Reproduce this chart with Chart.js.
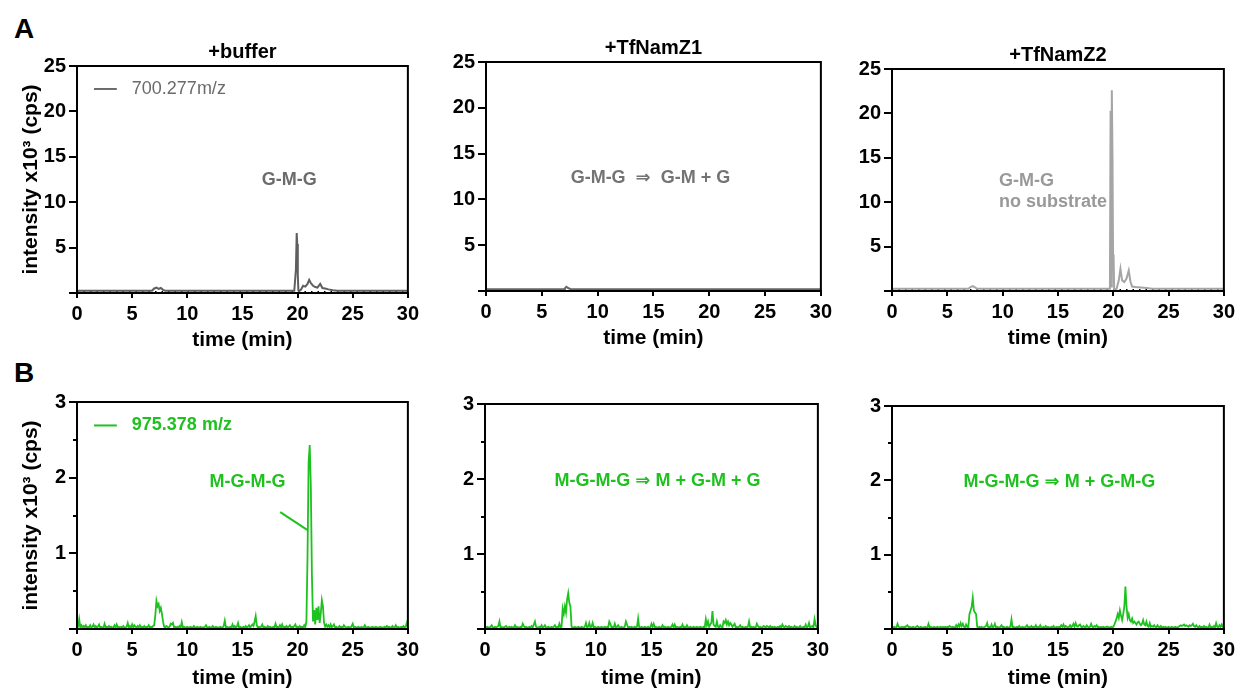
<!DOCTYPE html>
<html>
<head>
<meta charset="utf-8">
<script src="https://cdn.jsdelivr.net/npm/chart.js@4.4.1/dist/chart.umd.min.js"></script>
<style>
  html, body { margin: 0; padding: 0; background: #fff; overflow: hidden; }
  body { width: 1239px; height: 690px; position: relative; font-family: "Liberation Sans", Arial, sans-serif; }
  canvas { position: absolute; }
  .letter { position: absolute; font-weight: bold; font-size: 28px; line-height: 28px; color: #000; }
</style>
</head>
<body>
<div class="letter" style="left:14px;top:15px">A</div>
<div class="letter" style="left:14px;top:359px">B</div>
<canvas id="a1"></canvas>
<canvas id="a2"></canvas>
<canvas id="a3"></canvas>
<canvas id="b1"></canvas>
<canvas id="b2"></canvas>
<canvas id="b3"></canvas>
<script>
// ---- data (time in min, intensity in x10^3 cps) ----
const panelTitles = ['+buffer', '+TfNamZ1', '+TfNamZ2'];
const timeTicks = [0, 5, 10, 15, 20, 25, 30];

// 700.277 m/z trace (G-M-G)
const gmgBufferTime = [0, 6.8, 7.0, 7.2, 7.4, 7.6, 7.8, 8.0, 19.7, 19.85, 19.92, 19.97, 20.02, 20.07, 20.12, 20.3, 20.5, 20.7, 20.9, 21.05, 21.2, 21.4, 21.6, 21.8, 22.05, 22.25, 22.5, 22.8, 23.2, 23.6, 30];
const gmgBufferCps  = [0.25, 0.25, 0.5, 0.6, 0.45, 0.55, 0.35, 0.25, 0.25, 2.6, 6.6, 5.4, 2.0, 0.3, 0.2, 0.35, 0.8, 0.7, 1.0, 1.45, 1.1, 0.8, 0.65, 0.6, 1.0, 0.55, 0.5, 0.4, 0.3, 0.25, 0.25];
const gmgZ1Time = [0, 7.0, 7.2, 7.4, 7.6, 30];
const gmgZ1Cps  = [0.2, 0.2, 0.45, 0.3, 0.2, 0.2];
const gmgZ2Time = [0, 6.9, 7.1, 7.3, 7.5, 7.7, 19.7, 19.76, 19.81, 19.87, 19.93, 19.98, 20.03, 20.08, 20.3, 20.5, 20.65, 20.8, 21.0, 21.2, 21.4, 21.55, 21.7, 22.0, 22.5, 23.0, 23.5, 30];
const gmgZ2Cps  = [0.25, 0.25, 0.45, 0.55, 0.4, 0.25, 0.25, 20.3, 0.5, 22.6, 15.0, 4.1, 4.0, 0.2, 0.25, 1.2, 2.5, 1.2, 1.0, 1.4, 2.3, 1.1, 0.5, 0.45, 0.4, 0.35, 0.25, 0.25];
const dotLineTime = [0, 30];
const dotLineCps  = [0.1, 0.1];

// 975.378 m/z trace (M-G-M-G), one scan every 0.1 min, one row per minute
const scanStep = 0.1;
const mgmgBufferCps = [
  0.02,0.03,0.13,0.02,0.05,0.02,0.04,0.02,0.05,0.02,
  0.03,0.02,0.05,0.02,0.03,0.06,0.02,0.04,0.02,0.03,
  0.06,0.02,0.03,0.02,0.02,0.07,0.02,0.03,0.02,0.04,
  0.02,0.03,0.02,0.02,0.05,0.02,0.06,0.02,0.03,0.02,
  0.03,0.02,0.04,0.02,0.02,0.03,0.08,0.02,0.04,0.02,
  0.06,0.02,0.05,0.03,0.02,0.04,0.02,0.05,0.02,0.03,
  0.02,0.04,0.02,0.03,0.02,0.05,0.02,0.03,0.02,0.04,
  0.05,0.18,0.37,0.30,0.33,0.24,0.28,0.20,0.10,0.03,
  0.02,0.04,0.03,0.02,0.03,0.07,0.06,0.08,0.02,0.03,
  0.02,0.03,0.02,0.04,0.02,0.09,0.02,0.03,0.02,0.02,
  0.03,0.02,0.02,0.03,0.02,0.02,0.04,0.02,0.02,0.03,
  0.02,0.02,0.03,0.02,0.02,0.02,0.03,0.05,0.02,0.02,
  0.03,0.02,0.02,0.04,0.02,0.02,0.03,0.02,0.02,0.02,
  0.03,0.02,0.02,0.04,0.11,0.02,0.03,0.02,0.02,0.03,
  0.02,0.06,0.02,0.04,0.02,0.03,0.08,0.02,0.03,0.02,
  0.02,0.03,0.02,0.04,0.02,0.03,0.05,0.02,0.04,0.06,
  0.04,0.10,0.17,0.05,0.02,0.03,0.02,0.03,0.06,0.02,
  0.03,0.02,0.02,0.04,0.02,0.03,0.02,0.02,0.03,0.02,
  0.07,0.02,0.03,0.02,0.05,0.02,0.06,0.02,0.03,0.02,
  0.04,0.02,0.03,0.05,0.02,0.03,0.02,0.04,0.06,0.02,
  0.03,0.02,0.04,0.02,0.03,0.02,0.05,0.02,0.10,0.95,
  2.20,2.43,1.90,0.70,0.10,0.25,0.06,0.28,0.12,0.30,
  0.08,0.20,0.38,0.30,0.08,0.03,0.06,0.03,0.05,0.02,
  0.06,0.02,0.04,0.06,0.02,0.03,0.02,0.02,0.04,0.02,
  0.03,0.02,0.05,0.03,0.02,0.02,0.03,0.02,0.02,0.04,
  0.07,0.02,0.03,0.02,0.02,0.03,0.02,0.02,0.03,0.02,
  0.02,0.05,0.02,0.02,0.03,0.02,0.02,0.02,0.03,0.02,
  0.02,0.03,0.02,0.02,0.02,0.03,0.02,0.02,0.02,0.03,
  0.02,0.04,0.02,0.03,0.02,0.02,0.04,0.02,0.02,0.05,
  0.02,0.03,0.02,0.02,0.03,0.02,0.04,0.02,0.03,0.08,
  0.03
];
const mgmgZ1Cps = [
  0.02,0.02,0.03,0.02,0.02,0.03,0.05,0.02,0.02,0.03,
  0.02,0.03,0.04,0.10,0.02,0.03,0.02,0.02,0.03,0.04,
  0.02,0.02,0.03,0.02,0.03,0.02,0.02,0.05,0.02,0.03,
  0.02,0.02,0.03,0.02,0.07,0.04,0.02,0.03,0.02,0.02,
  0.03,0.02,0.04,0.02,0.06,0.10,0.03,0.02,0.02,0.03,
  0.02,0.05,0.02,0.03,0.05,0.02,0.02,0.03,0.02,0.02,
  0.03,0.02,0.03,0.05,0.02,0.03,0.02,0.07,0.02,0.03,
  0.27,0.20,0.30,0.22,0.40,0.48,0.35,0.30,0.03,0.02,
  0.02,0.03,0.02,0.02,0.03,0.02,0.02,0.03,0.02,0.02,
  0.03,0.08,0.02,0.03,0.08,0.02,0.03,0.08,0.02,0.03,
  0.02,0.02,0.03,0.02,0.02,0.03,0.02,0.02,0.03,0.02,
  0.03,0.02,0.10,0.07,0.02,0.03,0.02,0.07,0.02,0.03,
  0.05,0.02,0.02,0.03,0.02,0.02,0.03,0.10,0.06,0.02,
  0.03,0.02,0.03,0.02,0.02,0.03,0.02,0.03,0.14,0.02,
  0.02,0.03,0.02,0.02,0.03,0.02,0.02,0.03,0.02,0.02,
  0.07,0.03,0.07,0.02,0.03,0.02,0.02,0.03,0.02,0.02,
  0.05,0.02,0.03,0.02,0.02,0.03,0.02,0.02,0.03,0.06,
  0.02,0.06,0.02,0.03,0.02,0.02,0.03,0.02,0.06,0.02,
  0.03,0.02,0.05,0.02,0.02,0.03,0.02,0.02,0.03,0.02,
  0.02,0.03,0.02,0.02,0.03,0.02,0.02,0.03,0.02,0.13,
  0.05,0.10,0.03,0.06,0.08,0.24,0.06,0.04,0.03,0.10,
  0.03,0.02,0.05,0.03,0.02,0.10,0.08,0.12,0.06,0.10,
  0.05,0.08,0.06,0.03,0.05,0.07,0.02,0.03,0.02,0.03,
  0.05,0.02,0.03,0.02,0.02,0.03,0.02,0.03,0.10,0.02,
  0.03,0.02,0.03,0.02,0.02,0.07,0.04,0.02,0.03,0.02,
  0.02,0.04,0.03,0.02,0.04,0.03,0.02,0.04,0.02,0.03,
  0.02,0.03,0.02,0.02,0.03,0.02,0.04,0.02,0.06,0.03,
  0.02,0.04,0.03,0.02,0.04,0.02,0.03,0.02,0.02,0.04,
  0.02,0.03,0.02,0.02,0.04,0.02,0.02,0.03,0.02,0.06,
  0.02,0.03,0.08,0.02,0.03,0.04,0.02,0.13,0.05,0.02,
  0.03
];
const mgmgZ2Cps = [
  0.02,0.02,0.03,0.02,0.02,0.07,0.03,0.02,0.02,0.03,
  0.02,0.03,0.02,0.04,0.05,0.02,0.03,0.02,0.02,0.03,
  0.02,0.02,0.03,0.04,0.02,0.02,0.03,0.02,0.02,0.02,
  0.03,0.02,0.02,0.07,0.02,0.03,0.02,0.02,0.03,0.02,
  0.02,0.03,0.02,0.02,0.03,0.02,0.03,0.02,0.03,0.02,
  0.03,0.02,0.04,0.03,0.02,0.03,0.02,0.02,0.05,0.02,
  0.06,0.03,0.08,0.04,0.07,0.03,0.02,0.06,0.03,0.02,
  0.20,0.25,0.30,0.42,0.25,0.22,0.20,0.03,0.02,0.03,
  0.02,0.03,0.02,0.02,0.03,0.04,0.08,0.02,0.03,0.02,
  0.06,0.02,0.03,0.07,0.02,0.03,0.02,0.02,0.03,0.05,
  0.02,0.03,0.02,0.02,0.03,0.02,0.02,0.03,0.13,0.02,
  0.03,0.02,0.02,0.03,0.02,0.04,0.02,0.02,0.03,0.02,
  0.02,0.03,0.05,0.02,0.03,0.02,0.04,0.02,0.03,0.02,
  0.05,0.02,0.03,0.02,0.05,0.02,0.02,0.03,0.02,0.04,
  0.02,0.03,0.02,0.02,0.03,0.02,0.04,0.02,0.02,0.03,
  0.02,0.03,0.02,0.05,0.03,0.06,0.02,0.04,0.03,0.02,
  0.03,0.05,0.02,0.04,0.07,0.03,0.08,0.04,0.03,0.05,
  0.06,0.03,0.02,0.04,0.03,0.02,0.05,0.03,0.02,0.03,
  0.07,0.03,0.02,0.04,0.03,0.05,0.02,0.03,0.02,0.03,
  0.02,0.03,0.02,0.02,0.03,0.03,0.02,0.02,0.03,0.02,
  0.03,0.06,0.10,0.14,0.20,0.15,0.25,0.18,0.12,0.20,
  0.30,0.57,0.30,0.15,0.20,0.12,0.10,0.14,0.08,0.10,
  0.08,0.06,0.09,0.10,0.07,0.05,0.07,0.12,0.06,0.05,
  0.10,0.04,0.03,0.08,0.03,0.04,0.03,0.05,0.03,0.02,
  0.05,0.03,0.02,0.04,0.02,0.03,0.02,0.03,0.02,0.02,
  0.03,0.02,0.02,0.03,0.02,0.02,0.03,0.02,0.02,0.03,
  0.04,0.05,0.04,0.05,0.06,0.04,0.05,0.04,0.03,0.05,
  0.04,0.05,0.07,0.04,0.03,0.05,0.03,0.02,0.04,0.02,
  0.03,0.02,0.04,0.02,0.03,0.02,0.02,0.06,0.02,0.03,
  0.02,0.04,0.02,0.08,0.03,0.02,0.05,0.03,0.06,0.03,
  0.03
];

// ---- drawing ----
const FONT = '"Liberation Sans", "DejaVu Sans", Arial, sans-serif';
const GREEN = '#1ec21e';

function pairs(times, vals) { return vals.map((v, i) => ({ x: times[i], y: v })); }
function scans(vals) { return vals.map((v, i) => ({ x: i * scanStep, y: v })); }

const deco = {
  id: 'deco',
  afterDatasetsDraw(chart, args, o) {
    const { ctx, chartArea: a, scales: { x, y } } = chart;
    ctx.save();
    ctx.strokeStyle = '#000';
    ctx.lineWidth = 2;
    ctx.strokeRect(a.left, a.top, a.right - a.left, a.bottom - a.top);
    (o.minorY || []).forEach(v => {
      const py = Math.round(y.getPixelForValue(v));
      ctx.beginPath(); ctx.moveTo(a.left - 4, py); ctx.lineTo(a.left, py); ctx.stroke();
    });
    ctx.fillStyle = '#000';
    ctx.font = 'bold 20px ' + FONT;
    ctx.textAlign = 'center';
    ctx.textBaseline = 'middle';
    if (o.title) ctx.fillText(o.title, (a.left + a.right) / 2, a.top - 14);
    if (o.legend) {
      const L = o.legend;
      ctx.strokeStyle = L.color; ctx.lineWidth = 2;
      ctx.beginPath();
      ctx.moveTo(x.getPixelForValue(L.x1), y.getPixelForValue(L.y));
      ctx.lineTo(x.getPixelForValue(L.x2), y.getPixelForValue(L.y));
      ctx.stroke();
      ctx.fillStyle = L.color; ctx.font = L.font + ' ' + FONT; ctx.textAlign = 'left';
      ctx.fillText(L.text, x.getPixelForValue(L.tx), y.getPixelForValue(L.y));
    }
    (o.notes || []).forEach(n => {
      ctx.fillStyle = n.color; ctx.font = 'bold 18px ' + FONT; ctx.textAlign = n.align || 'center';
      ctx.fillText(n.text, x.getPixelForValue(n.x), y.getPixelForValue(n.y));
    });
    if (o.pointer) {
      const p = o.pointer;
      ctx.strokeStyle = p.color; ctx.lineWidth = 2;
      ctx.beginPath();
      ctx.moveTo(x.getPixelForValue(p.from[0]), y.getPixelForValue(p.from[1]));
      ctx.lineTo(x.getPixelForValue(p.to[0]), y.getPixelForValue(p.to[1]));
      ctx.stroke();
    }
    ctx.restore();
  }
};

const panels = [
  { id: 'a1', col: 0, plot: [77, 66, 409, 293], xh: 60, yMax: 25, yStep: 5, title: panelTitles[0],
    sets: [{ data: pairs(gmgBufferTime, gmgBufferCps), color: '#5f5f5f', width: 2 }],
    dots: true,
    legend: { x1: 1.54, x2: 3.61, y: 22.47, tx: 4.97, text: '700.277m/z', color: '#6b6b6b', font: '18px' },
    notes: [{ x: 19.25, y: 12.44, text: 'G-M-G', color: '#6b6b6b' }] },
  { id: 'a2', col: 1, plot: [486, 62, 822, 291], xh: 60, yMax: 25, yStep: 5, title: panelTitles[1],
    sets: [{ data: pairs(gmgZ1Time, gmgZ1Cps), color: '#666666', width: 2 }],
    dots: true,
    notes: [{ x: 14.73, y: 12.34, text: 'G-M-G  \u21D2  G-M + G', color: '#737373' }] },
  { id: 'a3', col: 2, plot: [892, 69, 1227, 291], xh: 60, yMax: 25, yStep: 5, title: panelTitles[2],
    sets: [{ data: pairs(gmgZ2Time, gmgZ2Cps), color: '#a5a5a5', width: 2 }],
    dots: true,
    notes: [{ x: 9.67, y: 12.4, text: 'G-M-G', color: '#999999', align: 'left' },
            { x: 9.67, y: 10.06, text: 'no substrate', color: '#999999', align: 'left' }] },
  { id: 'b1', col: 0, plot: [77, 402, 409, 629], xh: 62, yMax: 3, yStep: 1,
    sets: [{ data: scans(mgmgBufferCps), color: GREEN, width: 1.8 }],
    minorY: [0.5, 1.5, 2.5],
    legend: { x1: 1.54, x2: 3.61, y: 2.69, tx: 4.97, text: '975.378 m/z', color: GREEN, font: 'bold 18px' },
    notes: [{ x: 15.45, y: 1.94, text: 'M-G-M-G', color: GREEN }],
    pointer: { from: [18.43, 1.545], to: [20.87, 1.31], color: GREEN } },
  { id: 'b2', col: 1, plot: [485, 404, 819, 629], xh: 62, yMax: 3, yStep: 1,
    sets: [{ data: scans(mgmgZ1Cps), color: GREEN, width: 1.8 }],
    minorY: [0.5, 1.5, 2.5],
    notes: [{ x: 15.54, y: 1.97, text: 'M-G-M-G \u21D2 M + G-M + G', color: GREEN }] },
  { id: 'b3', col: 2, plot: [892, 406, 1227, 629], xh: 62, yMax: 3, yStep: 1,
    sets: [{ data: scans(mgmgZ2Cps), color: GREEN, width: 1.8 }],
    minorY: [0.5, 1.5, 2.5],
    notes: [{ x: 15.13, y: 1.98, text: 'M-G-M-G \u21D2 M + G-M-G', color: GREEN }] }
];

panels.forEach(p => {
  const [pl, pt, pr, pb] = p.plot;
  const yw = p.col === 0 ? pl : 60;
  const padTop = 40;
  const padRight = p.col === 2 ? 12 : 14;
  const left = pl - yw, top = pt - padTop;
  const cv = document.getElementById(p.id);
  cv.width = pr - left + padRight;
  cv.height = pb + p.xh - top;
  cv.style.left = left + 'px';
  cv.style.top = top + 'px';

  const datasets = p.sets.map(s => ({
    data: s.data, borderColor: s.color, borderWidth: s.width, pointRadius: 0, tension: 0, order: 1
  }));
  if (p.dots) {
    datasets.push({ data: pairs(dotLineTime, dotLineCps), borderColor: '#000', borderWidth: 2,
      borderDash: [1.5, 5], pointRadius: 0, order: 2 });
  }

  new Chart(cv.getContext('2d'), {
    type: 'line',
    data: { datasets },
    plugins: [deco],
    options: {
      responsive: false,
      animation: false,
      layout: { padding: { top: padTop, right: padRight, left: 0, bottom: 0 } },
      plugins: {
        legend: { display: false },
        tooltip: { enabled: false },
        deco: { title: p.title || '', legend: p.legend, notes: p.notes, pointer: p.pointer, minorY: p.minorY }
      },
      scales: {
        x: {
          type: 'linear', min: 0, max: 30,
          afterBuildTicks: s => { s.ticks = timeTicks.map(v => ({ value: v })); },
          ticks: { font: { size: 20, weight: 'bold', family: FONT }, color: '#000', padding: 4, maxRotation: 0, autoSkip: false },
          grid: { drawOnChartArea: false, drawTicks: true, tickLength: 5, color: '#000', lineWidth: 2 },
          border: { color: '#000', width: 2 },
          title: { display: true, text: 'time (min)', color: '#000', font: { size: 21, weight: 'bold', family: FONT }, padding: { top: 0, bottom: 0 } },
          afterFit: s => { s.height = p.xh; }
        },
        y: {
          min: 0, max: p.yMax,
          ticks: { stepSize: p.yStep, callback: v => (v === 0 ? '' : v), font: { size: 20, weight: 'bold', family: FONT }, color: '#000', padding: 3 },
          grid: { drawOnChartArea: false, drawTicks: true, tickLength: 8, color: '#000', lineWidth: 2 },
          border: { color: '#000', width: 2 },
          title: { display: p.col === 0, text: 'intensity x10\u00B3 (cps)', color: '#000', font: { size: 21, weight: 'bold', family: FONT }, padding: { top: 19, bottom: 0 } },
          afterFit: s => { s.width = yw; }
        }
      }
    }
  });
});
</script>
</body>
</html>
